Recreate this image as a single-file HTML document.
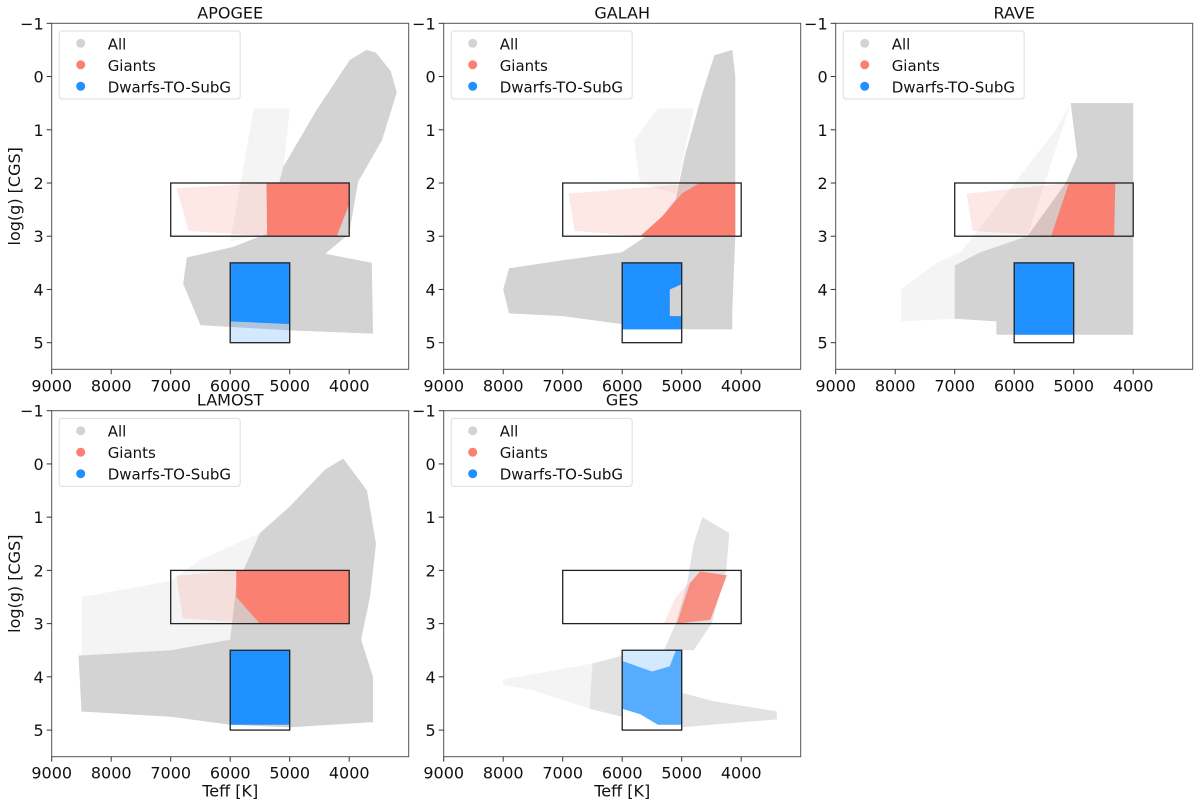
<!DOCTYPE html>
<html><head><meta charset="utf-8">
<style>
html,body{margin:0;padding:0;background:#fff;}
svg{display:block;font-family:"DejaVu Sans","Liberation Sans",sans-serif;}
</style></head>
<body>
<svg id="fig" width="1200" height="800" viewBox="0 0 1200 800" xmlns="http://www.w3.org/2000/svg"></svg>
<script>
// ---- data (Teff [K], log g) ----
const panelNames = ["APOGEE","GALAH","RAVE","LAMOST","GES"];
const xTicks = [9000,8000,7000,6000,5000,4000];
const yTicks = [-1,0,1,2,3,4,5];
const giantsBox = [7000,4000,2,3];
const dwarfsBox = [6000,5000,3.5,5];

// APOGEE
const grayApogee = [[3550,-0.45],[3300,-0.1],[3200,0.3],[3450,1.2],[3850,1.98],[4000,2.95],[4400,3.33],[3620,3.5],[3600,4.83],[5000,4.77],[6500,4.67],[6790,3.89],[6730,3.4],[5950,3.2],[5390,2.95],[5110,1.7],[4550,0.63],[3990,-0.31],[3710,-0.5]];
const graySparseApogee = [[5600,0.6],[5000,0.6],[5100,1.7],[5390,2.95],[6000,3.1],[5700,1.2]];
const redApogee = [[5390,2.0],[4000,2.0],[4000,2.4],[4210,3.0],[5380,3.0]];
const redSparseApogee = [[6900,2.1],[5390,2.0],[5380,3.0],[6700,2.9]];
const blueApogee = [[6000,3.5],[5000,3.5],[5000,4.65],[6000,4.6]];
const blueSparseApogee = [[6000,4.6],[5000,4.65],[5000,5.0],[6000,5.0]];

// GALAH
const grayGalah = [[4150,-0.5],[4100,0],[4100,3.0],[4150,4.4],[4150,4.75],[4900,4.75],[5300,4.7],[6000,4.65],[7000,4.5],[7900,4.45],[8000,4.0],[7900,3.6],[7000,3.45],[6000,3.3],[5600,3.0],[5100,2.3],[4950,1.5],[4650,0.3],[4450,-0.4]];
const graySparseGalah = [[5400,0.6],[4800,0.6],[5100,2.2],[5700,2.0],[5800,1.2]];
const redGalah = [[4700,2.0],[4100,2.0],[4100,3.0],[5700,3.0],[5300,2.6],[5000,2.2]];
const redSparseGalah = [[6900,2.2],[4700,2.0],[5700,3.0],[6800,2.9]];
const blueGalah = [[6000,3.5],[5000,3.5],[5000,3.9],[5200,4.0],[5200,4.5],[5000,4.5],[5000,4.75],[6000,4.75]];
const blueSparseGalah = [];

// RAVE
const grayRave = [[5050,0.5],[4000,0.5],[4000,4.85],[6300,4.85],[6300,4.6],[7000,4.55],[7000,3.55],[6570,3.3],[5780,3.0],[5135,2.0],[4940,1.5]];
const graySparseRave = [[7000,3.55],[7000,4.55],[7900,4.6],[7900,4.0],[7300,3.5],[6900,3.3],[5300,1.0],[5050,0.5],[5780,3.0]];
const redRave = [[5080,2.0],[4300,2.0],[4320,3.0],[5380,3.0]];
const redSparseRave = [[6800,2.2],[5080,2.0],[5380,3.0],[6700,2.9]];
const blueRave = [[6000,3.5],[5000,3.5],[5000,4.85],[6000,4.85]];
const blueSparseRave = [];

// LAMOST
const grayLamost = [[4100,-0.1],[3700,0.5],[3550,1.5],[3650,2.5],[3800,3.3],[3600,4.0],[3600,4.85],[5000,4.95],[6000,4.9],[7000,4.75],[8500,4.65],[8550,3.6],[7000,3.5],[6000,3.3],[5900,2.3],[5500,1.3],[5000,0.8],[4400,0.1]];
const graySparseLamost = [[5500,1.3],[6500,1.8],[7000,2.2],[8500,2.5],[8500,3.6],[7000,3.5],[6000,3.3],[5900,2.3]];
const redLamost = [[5900,2.0],[4000,2.0],[4000,3.0],[5500,3.0],[5900,2.5]];
const redSparseLamost = [[6900,2.1],[5900,2.0],[5900,2.5],[5500,3.0],[6800,2.9]];
const blueLamost = [[6000,3.5],[5000,3.5],[5000,4.9],[6000,4.9]];
const blueSparseLamost = [];

// GES
const grayGes = [[4650,1.0],[4200,1.3],[4250,2.0],[4500,3.0],[4800,3.5],[5300,3.5],[5100,3.0],[4900,2.2],[4800,1.5]];
const grayGes2 = [[6000,3.6],[6500,3.75],[6550,4.6],[6000,4.75]];
const grayGes3 = [[5000,4.3],[4500,4.45],[3400,4.65],[3400,4.8],[4500,4.9],[5000,4.95]];
const graySparseGes = [[8000,4.05],[6500,3.75],[6550,4.6],[7500,4.25],[8000,4.15]];
const redGes = [[4690,2.02],[4240,2.09],[4520,2.93],[5080,3.0],[4860,2.24]];
const redSparseGes = [[5100,2.5],[4690,2.02],[5080,3.0],[5300,3.0]];
const blueGes = [[6000,3.7],[5500,3.9],[5200,3.8],[5100,3.5],[5000,3.5],[5000,4.9],[5400,4.9],[5700,4.7],[6000,4.6]];
const blueSparseGes = [[6000,3.5],[5100,3.5],[5200,3.8],[5500,3.9],[6000,3.7]];

const grayData = [[grayApogee],[grayGalah],[grayRave],[grayLamost],[grayGes,grayGes2,grayGes3]];
const graySparseData = [graySparseApogee,graySparseGalah,graySparseRave,graySparseLamost,graySparseGes];
const redData = [redApogee,redGalah,redRave,redLamost,redGes];
const redSparseData = [redSparseApogee,redSparseGalah,redSparseRave,redSparseLamost,redSparseGes];
const blueData = [blueApogee,blueGalah,blueRave,blueLamost,blueGes];
const blueSparseData = [blueSparseApogee,blueSparseGalah,blueSparseRave,blueSparseLamost,blueSparseGes];

// ---- layout ----
const NS = "http://www.w3.org/2000/svg";
const svg = document.getElementById('fig');
const W = 357, H = 346;
const lefts = [51.7, 443.7, 835.7, 51.7, 443.7];
const tops = [23.3, 23.3, 23.3, 410.7, 410.7];
const X0 = 9000, X1 = 3000, Y0 = -1, Y1 = 5.5;

function mk(tag, attrs, parent){
  const e = document.createElementNS(NS, tag);
  for (const k in attrs) e.setAttribute(k, attrs[k]);
  (parent || svg).appendChild(e);
  return e;
}

panelNames.forEach((name, i) => {
  const L = lefts[i], T = tops[i];
  const xs = t => L + (X0 - t) / (X0 - X1) * W;
  const ys = g => T + (g - Y0) / (Y1 - Y0) * H;
  const g = mk('g', {});
  
  

  const clipId = 'clip' + i;
  const cp = mk('clipPath', {id: clipId}, g);
  mk('rect', {x: L, y: T, width: W, height: H}, cp);
  const plot = mk('g', {'clip-path': 'url(#' + clipId + ')'}, g);

  const poly = (pts, fill, op, nm) => {
    if (!pts.length) return;
    const p = mk('polygon', {points: pts.map(d => xs(d[0]).toFixed(1) + ',' + ys(d[1]).toFixed(1)).join(' '), fill: fill, 'fill-opacity': op}, plot);
    
    
  };
  const isGes = name === 'GES';
  poly(graySparseData[i], '#d3d3d3', 0.25, 'all-stars-sparse');
  grayData[i].forEach(pts => poly(pts, '#d3d3d3', isGes ? 0.65 : 1, 'all-stars-cloud'));
  poly(redSparseData[i], '#fa8072', 0.18, 'giants-sparse');
  poly(redData[i], '#fa8072', isGes ? 0.85 : 1, 'giants-cloud');
  poly(blueSparseData[i], '#1e90ff', 0.2, 'dwarfs-sparse');
  poly(blueData[i], '#1e90ff', isGes ? 0.75 : 1, 'dwarfs-cloud');

  const box = (b, nm) => {
    const r = mk('rect', {x: xs(b[0]), y: ys(b[2]), width: xs(b[1]) - xs(b[0]), height: ys(b[3]) - ys(b[2]), fill: 'none', stroke: '#222', 'stroke-width': 1.3}, plot);
    
    
  };
  box(giantsBox, 'giants-selection-box');
  box(dwarfsBox, 'dwarfs-selection-box');

  const frame = mk('rect', {x: L, y: T, width: W, height: H, fill: 'none', stroke: '#555', 'stroke-width': 1}, g);
  
  

  xTicks.forEach(t => {
    const x = xs(t);
    mk('line', {x1: x, x2: x, y1: T + H, y2: T + H + 5, stroke: '#333', 'stroke-width': 1}, g);
    const tx = mk('text', {x: x, y: T + H + 22, 'text-anchor': 'middle', 'font-size': 16, fill: '#111'}, g);
    tx.textContent = t;
    
    
  });
  yTicks.forEach(v => {
    const y = ys(v);
    mk('line', {x1: L - 5, x2: L, y1: y, y2: y, stroke: '#333', 'stroke-width': 1}, g);
    const ty = mk('text', {x: L - 8, y: y + 6, 'text-anchor': 'end', 'font-size': 16, fill: '#111'}, g);
    ty.textContent = v < 0 ? '\u2212' + Math.abs(v) : v;
    
    
  });

  const title = mk('text', {x: L + W / 2, y: T - 5, 'text-anchor': 'middle', 'font-size': 16, fill: '#111'}, g);
  title.textContent = name;
  
  

  if (i === 0 || i === 3) {
    const yl = mk('text', {x: 0, y: 0, 'text-anchor': 'middle', 'font-size': 16, fill: '#111', transform: 'translate(20,' + (T + H / 2) + ') rotate(-90)'}, g);
    yl.textContent = 'log(g) [CGS]';
    
    
  }
  if (i >= 3) {
    const xl = mk('text', {x: L + W / 2, y: T + H + 40, 'text-anchor': 'middle', 'font-size': 16, fill: '#111'}, g);
    xl.textContent = 'Teff [K]';
    
    
  }

  const lg = mk('g', {}, g);
  
  
  mk('rect', {x: L + 7.5, y: T + 7.7, width: 181, height: 68, rx: 3, fill: '#fff', 'fill-opacity': 0.8, stroke: '#ddd', 'stroke-width': 1}, lg);
  const entries = [['All', '#d3d3d3'], ['Giants', '#fa8072'], ['Dwarfs-TO-SubG', '#1e90ff']];
  entries.forEach((e, k) => {
    const cy = T + 20 + k * 21.5;
    const c = mk('circle', {cx: L + 29, cy: cy, r: 4.5, fill: e[1]}, lg);
    
    
    const t = mk('text', {x: L + 56, y: cy + 6, 'font-size': 15, fill: '#111'}, lg);
    t.textContent = e[0];
    
    
  });
});
</script>
</body></html>
